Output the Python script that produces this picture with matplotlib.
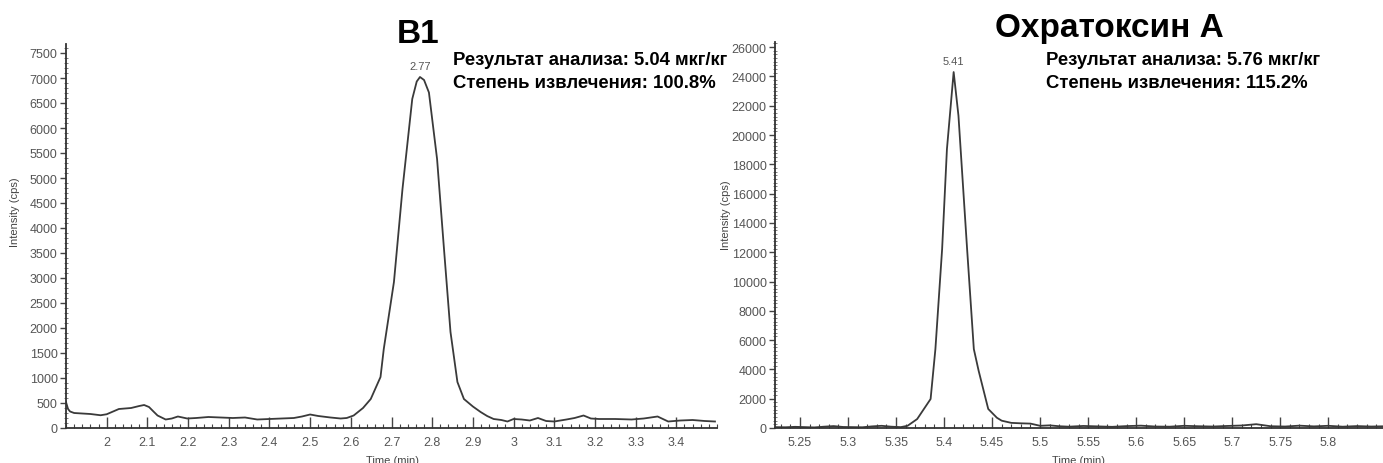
import numpy as np
import matplotlib.pyplot as plt
from matplotlib.ticker import MultipleLocator, FixedLocator, FuncFormatter

# B1 chromatogram (time in min, intensity in cps)
b1_time = [1.900, 1.905, 1.910, 1.920, 1.940, 1.960, 1.985, 2.000, 2.010, 2.030,
           2.045, 2.060, 2.080, 2.092, 2.104, 2.115, 2.125, 2.145, 2.160, 2.175,
           2.198, 2.220, 2.250, 2.280, 2.310, 2.340, 2.370, 2.400, 2.430, 2.460,
           2.480, 2.500, 2.520, 2.550, 2.575, 2.590, 2.607, 2.630, 2.649, 2.673,
           2.681, 2.706, 2.727, 2.751, 2.762, 2.770, 2.780, 2.792, 2.812, 2.829,
           2.845, 2.862, 2.878, 2.900, 2.919, 2.935, 2.951, 2.970, 2.985, 3.000,
           3.020, 3.040, 3.060, 3.080, 3.100, 3.130, 3.150, 3.172, 3.190, 3.210,
           3.250, 3.290, 3.320, 3.354, 3.380, 3.410, 3.440, 3.470, 3.495]
b1_signal = [520, 380, 330, 300, 290, 280, 255, 275, 310, 380,
             390, 400, 440, 460, 420, 330, 250, 170, 190, 230,
             190, 200, 220, 210, 200, 210, 170, 180, 190, 200,
             230, 270, 240, 210, 190, 200, 250, 400, 580, 1020,
             1580, 2920, 4780, 6580, 6930, 7020, 6960, 6710, 5380, 3580,
             1920, 920, 580, 430, 320, 240, 180, 160, 130, 180,
             170, 150, 200, 140, 130, 170, 200, 250, 190, 180,
             180, 170, 190, 230, 130, 150, 160, 140, 130]

# Ochratoxin A chromatogram
ota_time = [5.224, 5.235, 5.245, 5.255, 5.265, 5.275, 5.285, 5.295, 5.305, 5.315,
            5.325, 5.335, 5.345, 5.355, 5.362, 5.372, 5.386, 5.391, 5.398, 5.403,
            5.410, 5.415, 5.424, 5.431, 5.436, 5.446, 5.455, 5.460, 5.470, 5.480,
            5.490, 5.500, 5.510, 5.520, 5.530, 5.545, 5.560, 5.575, 5.590, 5.605,
            5.620, 5.635, 5.650, 5.665, 5.680, 5.695, 5.710, 5.725, 5.740, 5.755,
            5.770, 5.785, 5.800, 5.815, 5.830, 5.845, 5.860]
ota_signal = [60, 50, 80, 60, 40, 90, 130, 70, 60, 50,
              110, 150, 90, 60, 150, 610, 1980, 5390, 12220, 19040,
              24300, 21320, 12220, 5390, 3910, 1300, 700, 500, 350, 320,
              300, 150, 180, 120, 90, 140, 110, 80, 130, 160,
              100, 90, 150, 120, 100, 140, 170, 260, 120, 100,
              160, 110, 150, 90, 130, 100, 120]

b1_peak = (2.77, 7020)
ota_peak = (5.41, 24300)

b1_xticks = [2.0, 2.1, 2.2, 2.3, 2.4, 2.5, 2.6, 2.7, 2.8, 2.9, 3.0, 3.1, 3.2, 3.3, 3.4]
ota_xticks = [5.25, 5.3, 5.35, 5.4, 5.45, 5.5, 5.55, 5.6, 5.65, 5.7, 5.75, 5.8]

titles = ["B1", "Охратоксин А"]
results = [["Результат анализа: 5.04 мкг/кг", "Степень извлечения: 100.8%"],
           ["Результат анализа: 5.76 мкг/кг", "Степень извлечения: 115.2%"]]

W, H = 1383, 464
fig = plt.figure(figsize=(W / 100, H / 100), dpi=100)

tick_family = ["Liberation Sans Narrow", "Liberation Sans"]
line_color = "#3a3a3a"


def px_box(x0, y0, x1, y1):
    return [x0 / W, 1 - y1 / H, (x1 - x0) / W, (y1 - y0) / H]


def style_axes(ax, xticks, xminor, ymajor, yminor, xfmt):
    for side in ("top", "right"):
        ax.spines[side].set_visible(False)
    for side in ("left", "bottom"):
        ax.spines[side].set_color("#333333")
        ax.spines[side].set_linewidth(1.3)
    ax.xaxis.set_major_locator(FixedLocator(xticks))
    ax.xaxis.set_minor_locator(MultipleLocator(xminor))
    ax.yaxis.set_major_locator(MultipleLocator(ymajor))
    ax.yaxis.set_minor_locator(MultipleLocator(yminor))
    ax.xaxis.set_major_formatter(FuncFormatter(xfmt))
    ax.yaxis.set_major_formatter(FuncFormatter(lambda v, p: f"{v:.0f}"))
    ax.tick_params(axis="x", which="major", direction="in", length=8, width=1,
                   color="#444444", pad=6, labelsize=9, labelcolor="#555555")
    ax.tick_params(axis="x", which="minor", direction="in", length=3, width=0.8,
                   color="#444444")
    ax.tick_params(axis="y", which="major", direction="out", length=4, width=1,
                   color="#444444", pad=2, labelsize=9, labelcolor="#555555")
    ax.tick_params(axis="y", which="minor", direction="inout", length=3, width=0.6,
                   color="#666666")
    for lbl in ax.get_xticklabels() + ax.get_yticklabels():
        lbl.set_family(tick_family)


def fmt_tenths(v, p):
    return f"{v:.1f}".rstrip("0").rstrip(".")


def fmt_hundredths(v, p):
    return f"{v:.2f}".rstrip("0").rstrip(".")


# left panel: B1
ax1 = fig.add_axes(px_box(66, 45, 717, 429))
ax1.plot(b1_time, b1_signal, color=line_color, lw=1.3)
ax1.set_xlim(1.90, 3.50)
ax1.set_ylim(0, 7680)
style_axes(ax1, b1_xticks, 0.02, 500, 100, fmt_tenths)
ax1.annotate(f"{b1_peak[0]:.2f}", b1_peak, xytext=(0, 4), textcoords="offset points",
             ha="center", va="bottom", fontsize=8, family=tick_family, color="#555555")

# right panel: ochratoxin A
ax2 = fig.add_axes(px_box(775, 43, 1383, 429))
ax2.plot(ota_time, ota_signal, color=line_color, lw=1.3)
ax2.set_xlim(5.224, 5.857)
ax2.set_ylim(0, 26350)
style_axes(ax2, ota_xticks, 0.01, 2000, 250, fmt_hundredths)
ax2.annotate(f"{ota_peak[0]:.2f}", ota_peak, xytext=(0, 4), textcoords="offset points",
             ha="center", va="bottom", fontsize=8, family=tick_family, color="#555555")

# axis titles
label_kw = dict(fontsize=8, family=tick_family, color="#444444")
fig.text(15 / W, 1 - 212 / H, "Intensity (cps)", rotation=90, ha="center", va="center",
         **label_kw)
fig.text(726 / W, 1 - 215 / H, "Intensity (cps)", rotation=90, ha="center", va="center",
         **label_kw)
fig.text(392 / W, 1 - 461 / H, "Time (min)", ha="center", va="center", **label_kw)
fig.text(1078 / W, 1 - 461 / H, "Time (min)", ha="center", va="center", **label_kw)

# compound names and results
bold = dict(family="Liberation Sans", fontweight="bold", color="black")
fig.text(418 / W, 1 - 43 / H, titles[0], ha="center", va="baseline", fontsize=24, **bold)
fig.text(1109 / W, 1 - 37 / H, titles[1], ha="center", va="baseline", fontsize=24, **bold)
for x0, lines in zip((453, 1046), results):
    for y0, line in zip((65, 88), lines):
        fig.text(x0 / W, 1 - y0 / H, line, ha="left", va="baseline", fontsize=13.3, **bold)

fig.savefig("out.png", dpi=100)
